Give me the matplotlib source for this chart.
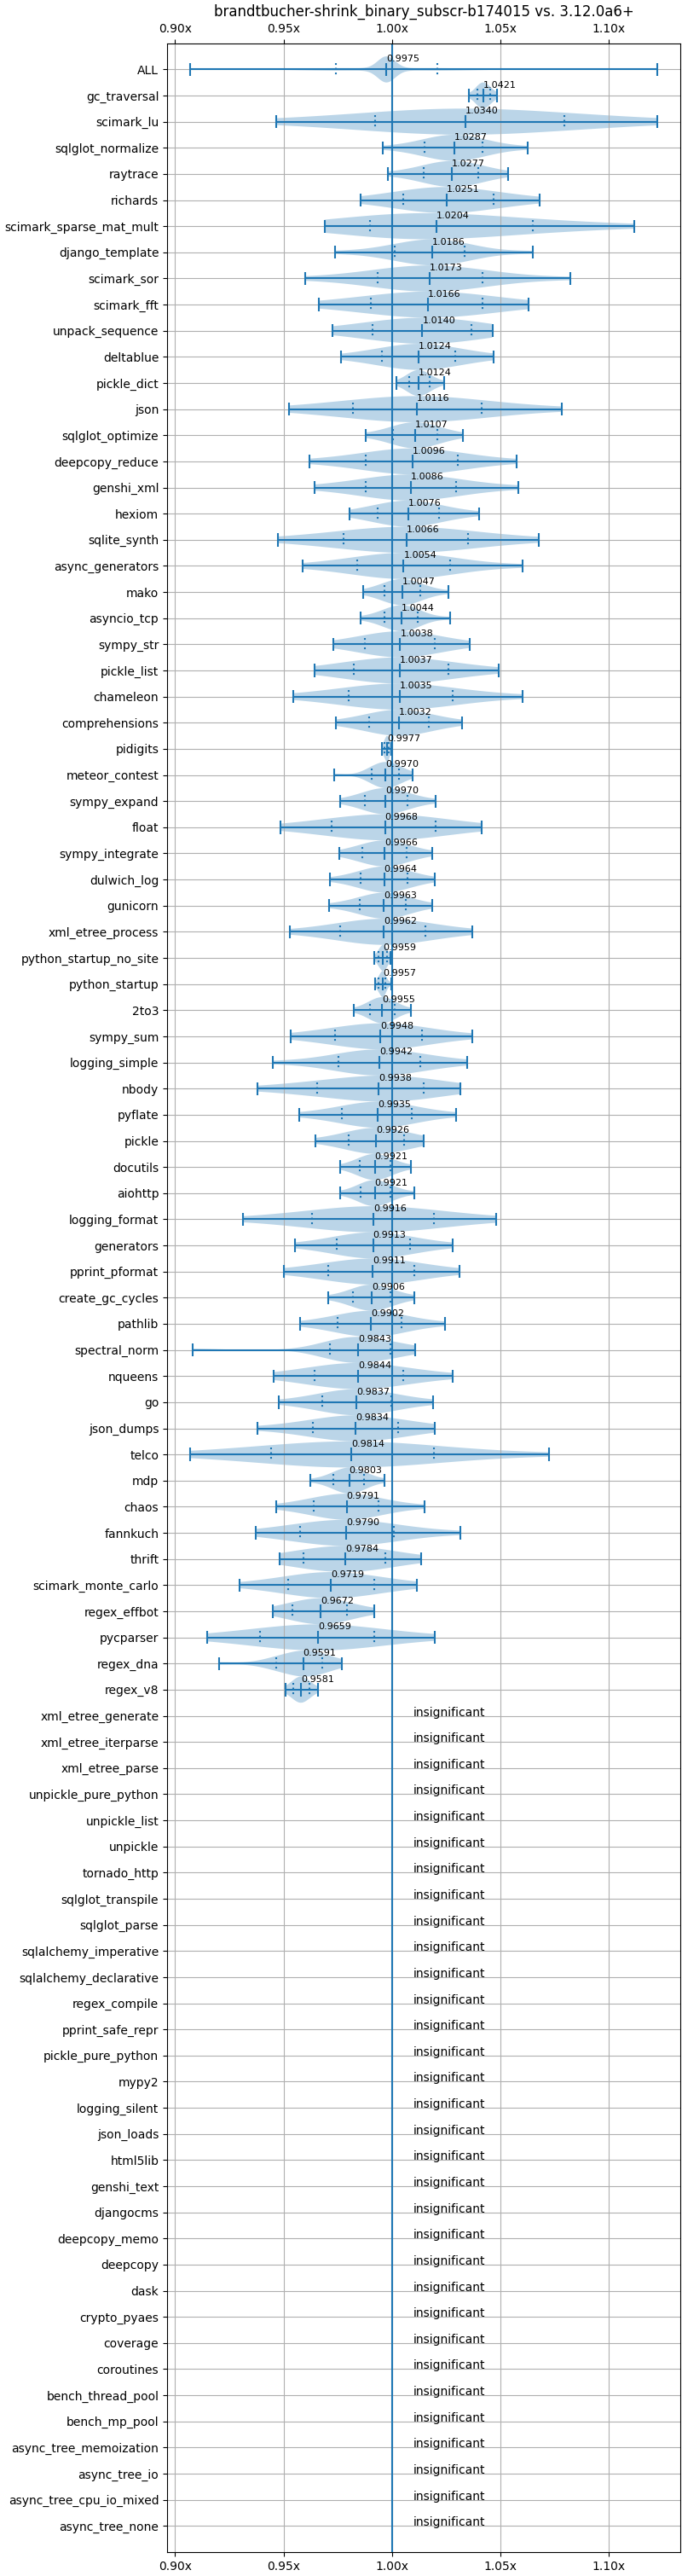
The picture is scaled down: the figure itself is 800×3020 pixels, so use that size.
import matplotlib.pyplot as plt
import numpy as np

title = "brandtbucher-shrink_binary_subscr-b174015 vs. 3.12.0a6+"

# significant benchmarks, top to bottom
names = [
    "ALL", "gc_traversal", "scimark_lu", "sqlglot_normalize", "raytrace",
    "richards", "scimark_sparse_mat_mult", "django_template", "scimark_sor",
    "scimark_fft", "unpack_sequence", "deltablue", "pickle_dict", "json",
    "sqlglot_optimize", "deepcopy_reduce", "genshi_xml", "hexiom",
    "sqlite_synth", "async_generators", "mako", "asyncio_tcp", "sympy_str",
    "pickle_list", "chameleon", "comprehensions", "pidigits",
    "meteor_contest", "sympy_expand", "float", "sympy_integrate",
    "dulwich_log", "gunicorn", "xml_etree_process", "python_startup_no_site",
    "python_startup", "2to3", "sympy_sum", "logging_simple", "nbody",
    "pyflate", "pickle", "docutils", "aiohttp", "logging_format",
    "generators", "pprint_pformat", "create_gc_cycles", "pathlib",
    "spectral_norm", "nqueens", "go", "json_dumps", "telco", "mdp", "chaos",
    "fannkuch", "thrift", "scimark_monte_carlo", "regex_effbot", "pycparser",
    "regex_dna", "regex_v8",
]
means = [
    0.9975, 1.0421, 1.0340, 1.0287, 1.0277, 1.0251, 1.0204, 1.0186, 1.0173,
    1.0166, 1.0140, 1.0124, 1.0124, 1.0116, 1.0107, 1.0096, 1.0086, 1.0076,
    1.0066, 1.0054, 1.0047, 1.0044, 1.0038, 1.0037, 1.0035, 1.0032, 0.9977,
    0.9970, 0.9970, 0.9968, 0.9966, 0.9964, 0.9963, 0.9962, 0.9959, 0.9957,
    0.9955, 0.9948, 0.9942, 0.9938, 0.9935, 0.9926, 0.9921, 0.9921, 0.9916,
    0.9913, 0.9911, 0.9906, 0.9902, 0.9843, 0.9844, 0.9837, 0.9834, 0.9814,
    0.9803, 0.9791, 0.9790, 0.9784, 0.9719, 0.9672, 0.9659, 0.9591, 0.9581,
]
lows = [
    0.9071, 1.0353, 0.9468, 0.9956, 0.9982, 0.9854, 0.9689, 0.9739, 0.9599,
    0.9665, 0.9725, 0.9767, 1.0022, 0.9527, 0.9880, 0.9621, 0.9643, 0.9803,
    0.9476, 0.9587, 0.9866, 0.9854, 0.9731, 0.9645, 0.9547, 0.9743, 0.9952,
    0.9735, 0.9763, 0.9488, 0.9759, 0.9713, 0.9709, 0.9531, 0.9918, 0.9924,
    0.9825, 0.9535, 0.9452, 0.9382, 0.9571, 0.9649, 0.9763, 0.9763, 0.9312,
    0.9553, 0.9503, 0.9705, 0.9575, 0.9083, 0.9456, 0.9480, 0.9382, 0.9071,
    0.9625, 0.9468, 0.9374, 0.9484, 0.9296, 0.9452, 0.9149, 0.9202, 0.9509,
]
q10s = [
    0.9743, 1.0393, 0.9924, 1.0152, 1.0148, 1.0054, 0.9900, 1.0014, 0.9936,
    0.9902, 0.9910, 0.9952, 1.0078, 0.9821, 1.0006, 0.9880, 0.9880, 0.9936,
    0.9779, 0.9838, 0.9964, 0.9964, 0.9876, 0.9825, 0.9799, 0.9894, 0.9964,
    0.9906, 0.9876, 0.9723, 0.9862, 0.9856, 0.9850, 0.9763, 0.9940, 0.9940,
    0.9898, 0.9739, 0.9755, 0.9657, 0.9771, 0.9799, 0.9850, 0.9854, 0.9633,
    0.9747, 0.9705, 0.9819, 0.9751, 0.9713, 0.9645, 0.9677, 0.9637, 0.9444,
    0.9731, 0.9641, 0.9575, 0.9591, 0.9521, 0.9543, 0.9390, 0.9468, 0.9545,
]
q90s = [
    1.0211, 1.0453, 1.0796, 1.0419, 1.0399, 1.0467, 1.0648, 1.0337, 1.0419,
    1.0419, 1.0365, 1.0291, 1.0175, 1.0413, 1.0209, 1.0303, 1.0295, 1.0219,
    1.0349, 1.0267, 1.0132, 1.0120, 1.0197, 1.0259, 1.0279, 1.0169, 0.9986,
    1.0032, 1.0070, 1.0203, 1.0066, 1.0070, 1.0062, 1.0156, 0.9976, 0.9970,
    1.0012, 1.0140, 1.0132, 1.0146, 1.0090, 1.0058, 0.9994, 0.9994, 1.0193,
    1.0082, 1.0102, 0.9994, 1.0046, 0.9994, 1.0054, 0.9998, 1.0030, 1.0193,
    0.9870, 0.9940, 1.0008, 0.9968, 0.9918, 0.9791, 0.9920, 0.9677, 0.9619,
]
highs = [
    1.1222, 1.0483, 1.1222, 1.0626, 1.0534, 1.0680, 1.1119, 1.0648, 1.0824,
    1.0628, 1.0463, 1.0467, 1.0239, 1.0782, 1.0329, 1.0574, 1.0582, 1.0401,
    1.0676, 1.0602, 1.0259, 1.0267, 1.0357, 1.0491, 1.0602, 1.0325, 0.9996,
    1.0094, 1.0203, 1.0415, 1.0185, 1.0197, 1.0185, 1.0371, 0.9994, 0.9996,
    1.0088, 1.0371, 1.0345, 1.0315, 1.0295, 1.0146, 1.0086, 1.0102, 1.0479,
    1.0279, 1.0313, 1.0102, 1.0243, 1.0106, 1.0279, 1.0189, 1.0197, 1.0726,
    0.9964, 1.0152, 1.0317, 1.0136, 1.0116, 0.9920, 1.0197, 0.9771, 0.9661,
]

insignificant = [
    "xml_etree_generate", "xml_etree_iterparse", "xml_etree_parse",
    "unpickle_pure_python", "unpickle_list", "unpickle", "tornado_http",
    "sqlglot_transpile", "sqlglot_parse", "sqlalchemy_imperative",
    "sqlalchemy_declarative", "regex_compile", "pprint_safe_repr",
    "pickle_pure_python", "mypy2", "logging_silent", "json_loads", "html5lib",
    "genshi_text", "djangocms", "deepcopy_memo", "deepcopy", "dask",
    "crypto_pyaes", "coverage", "coroutines", "bench_thread_pool",
    "bench_mp_pool", "async_tree_memoization", "async_tree_io",
    "async_tree_cpu_io_mixed", "async_tree_none",
]

# relative weight of min, q10, mean, q90, max in the density sketch
weights = np.array([0.06, 0.22, 0.44, 0.22, 0.06])
# ALL pools every benchmark, so it has a sharp spike around the mean
weights_all = np.array([0.02, 0.08, 0.80, 0.08, 0.02])


def make_stats(lo, q1, mean, q2, hi, w=weights, center_bw=None):
    pts = np.array([lo, q1, mean, q2, hi])
    bws = np.full(5, 0.4 * (q2 - q1))
    if center_bw is not None:
        bws[2] = center_bw
    coords = np.linspace(lo, hi, 400)
    vals = (w[:, None] * np.exp(
        -0.5 * ((coords[None, :] - pts[:, None]) / bws[:, None]) ** 2)).sum(axis=0)
    return dict(coords=coords, vals=vals, mean=mean, median=mean,
                min=lo, max=hi, quantiles=np.array([q1, q2]))


rows = list(zip(lows, q10s, means, q90s, highs))
stats = [make_stats(*rows[0], w=weights_all, center_bw=0.004)]
stats += [make_stats(*row) for row in rows[1:]]
all_names = names + insignificant
positions = np.arange(1, len(names) + 1)

fig, ax = plt.subplots(figsize=(8, 30.2), dpi=100)
fig.subplots_adjust(left=0.245, right=0.9975, top=0.9832, bottom=0.0093)

parts = ax.violin(stats, positions=positions, orientation="horizontal",
                  widths=1.0, showmeans=True, showextrema=True)
parts["cquantiles"].set_linestyle(":")

ax.axvline(1.0, color="C0")

for pos, m in zip(positions, means):
    ax.text(m, pos - 0.3, f"{m:.04f}", size=8)
for i in range(len(insignificant)):
    ax.text(1.01, len(names) + 1 + i, "insignificant")

ax.set_yticks(np.arange(1, len(all_names) + 1), labels=all_names)
ax.set_ylim(len(all_names) + 1, 0)
ax.grid(True)
ax.xaxis.set_major_formatter(lambda x, pos: f"{x:.2f}x")
ax.tick_params(axis="x", top=True, labeltop=True)
ax.set_title(title)

plt.savefig("out.png")
